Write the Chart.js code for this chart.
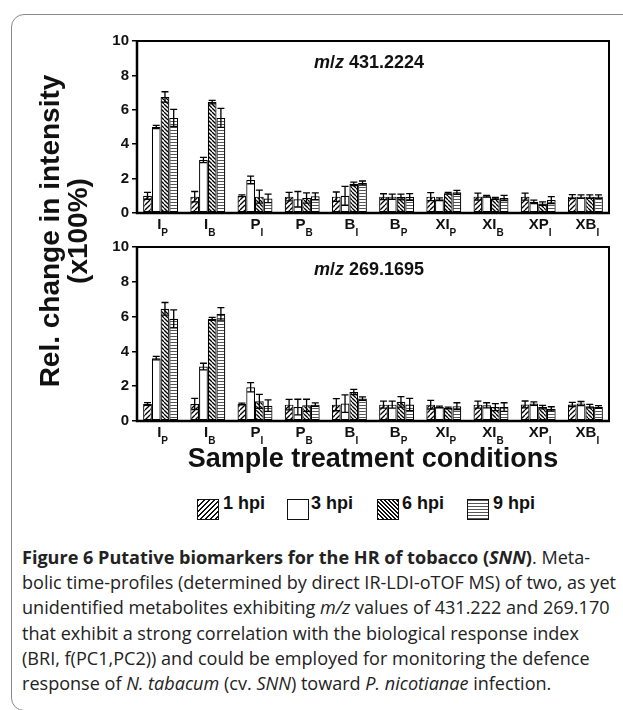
<!DOCTYPE html>
<html><head><meta charset="utf-8">
<script src="https://cdn.jsdelivr.net/npm/chart.js@4.4.1/dist/chart.umd.min.js"></script>
<style>
html,body{margin:0;padding:0;background:#fff;}
#wrap{position:relative;width:623px;height:710px;overflow:hidden;background:#fff;font-family:"Liberation Sans",Arial,sans-serif;}
#frame{position:absolute;left:11px;top:14px;width:700px;height:697px;border:1px solid #8a8a8a;border-radius:13px;box-sizing:border-box;}
canvas{position:absolute;left:0;}
.t{position:absolute;font-weight:bold;color:#111;white-space:nowrap;line-height:1;}
.sw{position:absolute;width:22px;height:21px;border:1px solid #111;box-sizing:border-box;background:#fff;}
#ytitle{position:absolute;left:-116px;top:203px;width:360px;height:56px;transform:rotate(-90deg);text-align:center;font-weight:bold;font-size:28px;line-height:28px;color:#111;}
#cap{position:absolute;left:22px;top:545px;font-family:"Open Sans",sans-serif;font-size:18px;line-height:25.2px;color:#222;transform-origin:0 0;white-space:nowrap;}
</style></head>
<body>
<div id="wrap">
  <div id="frame"></div>
  <canvas id="c1" width="623" height="240" style="top:0px;width:623px;height:240px"></canvas>
  <canvas id="c2" width="623" height="220" style="top:230px;width:623px;height:220px"></canvas>
  <div class="t" style="left:314px;top:53px;font-size:18px;"><i>m</i>/<i>z</i> 431.2224</div>
  <div class="t" style="left:314px;top:260px;font-size:18px;"><i>m</i>/<i>z</i> 269.1695</div>
  <div id="ytitle">Rel. change in intensity<br>(x100%)</div>
  <div class="t" id="xtitle" style="left:0;width:746px;text-align:center;top:445px;font-size:27px;">Sample treatment conditions</div>
  <div class="sw" style="left:197px;top:499px;background:repeating-linear-gradient(135deg,#111 0 1.4px,#fff 1.4px 3.6px);"></div>
  <div class="t" style="left:223px;top:494px;font-size:18px;">1 hpi</div>
  <div class="sw" style="left:287px;top:499px;"></div>
  <div class="t" style="left:311px;top:494px;font-size:18px;">3 hpi</div>
  <div class="sw" style="left:377px;top:499px;background:repeating-linear-gradient(45deg,#111 0 1.4px,#fff 1.4px 2.9px);"></div>
  <div class="t" style="left:402px;top:494px;font-size:18px;">6 hpi</div>
  <div class="sw" style="left:467px;top:499px;background:repeating-linear-gradient(0deg,#555 0 1px,#fff 1px 3px);"></div>
  <div class="t" style="left:493px;top:494px;font-size:18px;">9 hpi</div>
  <div id="cap">
    <div id="l1"><b>Figure 6 Putative biomarkers for the HR of tobacco (<i>SNN</i>)</b>. Meta-</div>
    <div id="l2">bolic time-profiles (determined by direct IR-LDI-oTOF MS) of two, as yet</div>
    <div>unidentified metabolites exhibiting <i>m/z</i> values of 431.222 and 269.170</div>
    <div>that exhibit a strong correlation with the biological response index</div>
    <div>(BRI, f(PC1,PC2)) and could be employed for monitoring the defence</div>
    <div>response of <i>N. tabacum</i> (cv. <i>SNN</i>) toward <i>P. nicotianae</i> infection.</div>
  </div>
</div>
<script>
// ---- data ----
const catMain = ['I','I','P','P','B','B','XI','XI','XP','XB'];
const catSub  = ['P','B','I','B','I','P','P','B','I','I'];
const seriesNames = ['1 hpi','3 hpi','6 hpi','9 hpi'];
const yTicks = [0,2,4,6,8,10];

// m/z 431.2224
const a_h1 = [1.0, 0.95, 1.0, 0.95, 0.95, 0.95, 0.95, 0.95, 0.95, 0.95];
const a_h1e = [0.2, 0.3, 0.05, 0.25, 0.27, 0.17, 0.23, 0.2, 0.2, 0.12];
const a_h3 = [5.0, 3.08, 1.92, 0.8, 1.0, 0.95, 0.8, 0.97, 0.65, 0.95];
const a_h3e = [0.1, 0.15, 0.22, 0.45, 0.55, 0.15, 0.08, 0.05, 0.1, 0.1];
const a_h6 = [6.75, 6.45, 0.95, 0.87, 1.7, 0.93, 1.15, 0.85, 0.55, 0.95];
const a_h6e = [0.3, 0.1, 0.38, 0.3, 0.1, 0.17, 0.05, 0.05, 0.1, 0.1];
const a_h9 = [5.53, 5.53, 0.85, 0.97, 1.74, 0.93, 1.2, 0.87, 0.75, 0.95];
const a_h9e = [0.5, 0.55, 0.25, 0.2, 0.12, 0.2, 0.12, 0.15, 0.2, 0.1];

// m/z 269.1695
const b_h1 = [0.98, 0.98, 0.98, 0.94, 0.94, 0.94, 0.94, 0.94, 0.95, 0.95];
const b_h1e = [0.08, 0.32, 0.05, 0.3, 0.35, 0.2, 0.25, 0.2, 0.2, 0.12];
const b_h3 = [3.61, 3.13, 1.94, 0.8, 1.0, 0.94, 0.8, 0.9, 1.0, 1.0];
const b_h3e = [0.1, 0.19, 0.27, 0.45, 0.5, 0.2, 0.05, 0.15, 0.1, 0.12];
const b_h6 = [6.45, 5.87, 1.13, 0.9, 1.67, 1.1, 0.75, 0.8, 0.8, 0.85];
const b_h6e = [0.36, 0.08, 0.4, 0.35, 0.15, 0.3, 0.05, 0.2, 0.1, 0.1];
const b_h9 = [5.87, 6.16, 0.88, 0.94, 1.29, 0.95, 0.85, 0.8, 0.7, 0.8];
const b_h9e = [0.52, 0.36, 0.33, 0.1, 0.1, 0.35, 0.2, 0.25, 0.12, 0.08];

const FAM = '"Liberation Sans", Arial, sans-serif';

function makePattern(ctx, type){
  const c = document.createElement('canvas');
  const s = type==='fwd' ? 5 : (type==='back' ? 4 : 3);
  c.width = s; c.height = s;
  const g = c.getContext('2d');
  g.fillStyle = '#fff'; g.fillRect(0,0,s,s);
  g.strokeStyle = '#000'; g.lineWidth = 1.3;
  if (type==='fwd'){
    for (const o of [-s,0,s]){ g.beginPath(); g.moveTo(o,s); g.lineTo(o+s,0); g.stroke(); }
  } else if (type==='back'){
    for (const o of [-s,0,s]){ g.beginPath(); g.moveTo(o,0); g.lineTo(o+s,s); g.stroke(); }
  } else {
    g.strokeStyle = '#555'; g.lineWidth = 1;
    g.beginPath(); g.moveTo(0,1.5); g.lineTo(s,1.5); g.stroke();
  }
  return ctx.createPattern(c,'repeat');
}

const panelPlugin = {
  id:'panel',
  afterDatasetsDraw(chart){
    const ctx = chart.ctx, ys = chart.scales.y;
    ctx.save();
    ctx.strokeStyle = '#000'; ctx.lineWidth = 1.3;
    chart.data.datasets.forEach((ds, di) => {
      const meta = chart.getDatasetMeta(di);
      meta.data.forEach((bar, i) => {
        const v = ds.data[i], e = ds.errs[i];
        const yt = ys.getPixelForValue(v+e), yb = ys.getPixelForValue(Math.max(0,v-e));
        const x = bar.x, w = 3.5;
        ctx.beginPath();
        ctx.moveTo(x, yb); ctx.lineTo(x, yt);
        ctx.moveTo(x-w, yt); ctx.lineTo(x+w, yt);
        ctx.moveTo(x-w, yb); ctx.lineTo(x+w, yb);
        ctx.stroke();
      });
    });
    const a = chart.chartArea;
    ctx.strokeStyle = '#000';
    ctx.lineWidth = 2;
    ctx.beginPath();
    ctx.moveTo(a.left, a.top); ctx.lineTo(a.right, a.top); ctx.lineTo(a.right, a.bottom);
    ctx.stroke();
    ctx.lineWidth = 2.5;
    ctx.beginPath();
    ctx.moveTo(a.left, a.top-1); ctx.lineTo(a.left, a.bottom); ctx.lineTo(a.right+1, a.bottom);
    ctx.stroke();
    // category labels with subscripts
    const xs = chart.scales.x;
    ctx.fillStyle = '#111';
    ctx.textBaseline = 'alphabetic';
    catMain.forEach((m, i) => {
      const cx = xs.getPixelForValue(i) + 2;
      ctx.font = 'bold 15px ' + FAM;
      const w1 = ctx.measureText(m).width;
      ctx.font = 'bold 10px ' + FAM;
      const w2 = ctx.measureText(catSub[i]).width;
      const x0 = cx - (w1 + w2)/2;
      ctx.font = 'bold 15px ' + FAM;
      ctx.textAlign = 'left';
      ctx.fillText(m, x0, a.bottom + 16);
      ctx.font = 'bold 10px ' + FAM;
      ctx.fillText(catSub[i], x0 + w1, a.bottom + 23);
    });
    ctx.restore();
  }
};

function makeChart(id, vals, errs, padTop, padBottom){
  const cv = document.getElementById(id);
  const ctx = cv.getContext('2d');
  const fills = [makePattern(ctx,'fwd'), '#fff', makePattern(ctx,'back'), makePattern(ctx,'horiz')];
  return new Chart(ctx, {
    type:'bar',
    data:{
      labels: catMain.map((m,i)=>m+catSub[i]),
      datasets: vals.map((d,k)=>({label:seriesNames[k], data:d, errs:errs[k], backgroundColor:fills[k],
        borderColor:'#000', borderWidth:1.2, borderSkipped:false}))
    },
    options:{
      responsive:false, animation:false, devicePixelRatio:1,
      layout:{padding:{top:padTop, bottom:padBottom, left:0, right:14}},
      plugins:{legend:{display:false}, tooltip:{enabled:false}, title:{display:false}},
      datasets:{bar:{categoryPercentage:0.74, barPercentage:1.0}},
      scales:{
        x:{display:false},
        y:{min:0, max:10,
          afterBuildTicks(s){ s.ticks = yTicks.map(v=>({value:v})); },
          ticks:{font:{family:FAM, size:15, weight:'bold'}, color:'#111', padding:3},
          grid:{drawOnChartArea:false, drawTicks:true, tickLength:5, color:'#000', lineWidth:1.5},
          border:{display:false},
          afterFit(s){ s.width = 137; }
        }
      }
    },
    plugins:[panelPlugin]
  });
}

makeChart('c1', [a_h1,a_h3,a_h6,a_h9], [a_h1e,a_h3e,a_h6e,a_h9e], 41, 27);
makeChart('c2', [b_h1,b_h3,b_h6,b_h9], [b_h1e,b_h3e,b_h6e,b_h9e], 17, 29);

// fit caption width to reference line length
const cap = document.getElementById('cap');
const l2 = document.getElementById('l2');
const r = document.createRange(); r.selectNodeContents(l2);
const w = r.getBoundingClientRect().width;
cap.style.transform = 'scaleX(' + (594 / w) + ')';
</script>
</body></html>
